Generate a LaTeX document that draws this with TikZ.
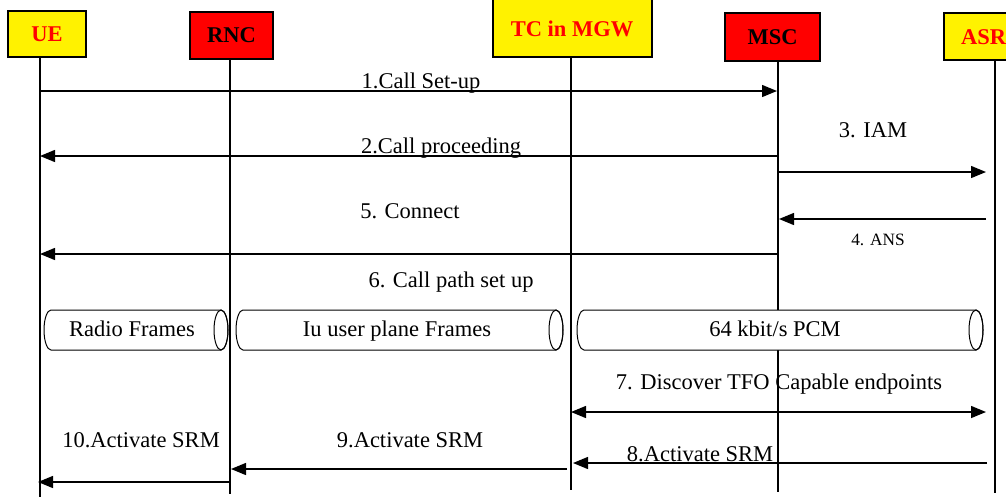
\documentclass[tikz,border=0pt]{standalone}
\usepackage{fontspec}
\setmainfont{Liberation Serif}
\usetikzlibrary{arrows.meta}
\begin{document}
\begin{tikzpicture}[x=1pt,y=-1pt,
  box/.style={draw=black, line width=1.2pt, inner sep=0pt, font=\fontsize{22.5}{24}\selectfont\bfseries},
  life/.style={line width=1.2pt},
  msg/.style={line width=1.4pt, -{Triangle[length=15pt,width=12pt]}},
  dmsg/.style={line width=1.4pt, {Triangle[length=15pt,width=12pt]}-{Triangle[length=15pt,width=12pt]}},
  lbl/.style={font=\fontsize{22.5}{24}\selectfont, inner sep=0pt, anchor=base},
  slbl/.style={font=\fontsize{17.3}{18}\selectfont, inner sep=0pt, anchor=base},
  pipe/.style={line width=1pt, fill=white}]
\useasboundingbox (0,0) rectangle (1006,499);
\clip (0,0) rectangle (1006,499);
% lifelines
\coordinate (ueT) at (40,58);   \coordinate (ueB) at (40,497);
\coordinate (rncT) at (230,60); \coordinate (rncB) at (230,494);
\coordinate (tcT) at (571,57);  \coordinate (tcB) at (571,490);
\coordinate (mscT) at (778,61); \coordinate (mscB) at (778,492);
\coordinate (asrT) at (995,60); \coordinate (asrB) at (995,493);
\foreach \a/\b in {ueT/ueB,rncT/rncB,tcT/tcB,mscT/mscB,asrT/asrB}
  \draw[life] (\a) -- (\b);
% boxes
\node[box, fill=yellow, text=red, minimum width=78pt, minimum height=46pt] (ue) at (47,34) {UE};
\node[box, fill=red, text=black, minimum width=83pt, minimum height=47pt] (rnc) at (231.5,35.5) {RNC};
\node[box, fill=yellow, text=red, minimum width=159pt, minimum height=64pt] (tc) at (572.5,25) {};
\node[font=\fontsize{22.5}{24}\selectfont\bfseries, text=red, inner sep=0pt] (tct) at (572,29) {TC in MGW};
\node[box, fill=red, text=black, minimum width=95pt, minimum height=48pt] (msc) at (772.5,37) {MSC};
\node[box, fill=yellow, minimum width=96pt, minimum height=47pt] (asr) at (992,36.5) {};
\node[font=\fontsize{22.5}{24}\selectfont\bfseries, text=red, inner sep=0pt, anchor=west] (asrt) at (961,37) {ASR};
% message 1
\coordinate (m1a) at (40,91); \coordinate (m1b) at (777,91);
\draw[msg] (m1a) -- (m1b);
\node[lbl] (l1) at (421,88) {1.Call Set-up};
% message 2
\coordinate (m2a) at (778,156); \coordinate (m2b) at (40,156);
\draw[msg] (m2a) -- (m2b);
\node[lbl] (l2) at (441,153) {2.Call proceeding};
% message 3
\coordinate (m3a) at (778,172); \coordinate (m3b) at (986,172);
\draw[msg] (m3a) -- (m3b);
\node[lbl] (l3) at (873,137) {3. IAM};
% message 4
\coordinate (m4a) at (986,219); \coordinate (m4b) at (779,219);
\draw[msg] (m4a) -- (m4b);
\node[slbl] (l4) at (878,245) {4. ANS};
% message 5
\coordinate (m5a) at (778,254); \coordinate (m5b) at (40,254);
\draw[msg] (m5a) -- (m5b);
\node[lbl] (l5) at (410,218) {5. Connect};
% label 6
\node[lbl] (l6) at (451,287) {6. Call path set up};
% pipes
\draw[pipe] (51,310) -- (221,310) arc[start angle=270,end angle=450,x radius=7,y radius=20]
  -- (51,350) arc[start angle=90,end angle=270,x radius=7,y radius=20] -- cycle;
\draw[line width=1pt] (221,330) ellipse[x radius=7,y radius=20];
\node[lbl] (p1) at (132,336) {Radio Frames};
\draw[pipe] (243,310) -- (556,310) arc[start angle=270,end angle=450,x radius=7,y radius=20]
  -- (243,350) arc[start angle=90,end angle=270,x radius=7,y radius=20] -- cycle;
\draw[line width=1pt] (556,330) ellipse[x radius=7,y radius=20];
\node[lbl] (p2) at (397,336) {Iu user plane Frames};
\draw[pipe] (584,310) -- (976,310) arc[start angle=270,end angle=450,x radius=7,y radius=20]
  -- (584,350) arc[start angle=90,end angle=270,x radius=7,y radius=20] -- cycle;
\draw[line width=1pt] (976,330) ellipse[x radius=7,y radius=20];
\node[lbl] (p3) at (775,336) {64 kbit/s PCM};
% message 7
\coordinate (m7a) at (571,412); \coordinate (m7b) at (986,412);
\draw[dmsg] (m7a) -- (m7b);
\node[lbl] (l7) at (779,389) {7. Discover TFO Capable endpoints};
% message 8
\coordinate (m8a) at (987,463); \coordinate (m8b) at (573,463);
\draw[msg] (m8a) -- (m8b);
\node[lbl] (l8) at (700,461) {8.Activate SRM};
% message 9
\coordinate (m9a) at (567,469); \coordinate (m9b) at (231,469);
\draw[msg] (m9a) -- (m9b);
\node[lbl] (l9) at (410,447) {9.Activate SRM};
% message 10
\coordinate (m10a) at (230,482); \coordinate (m10b) at (38,482);
\draw[msg] (m10a) -- (m10b);
\node[lbl] (l10) at (141,447) {10.Activate SRM};
\end{tikzpicture}
\end{document}
